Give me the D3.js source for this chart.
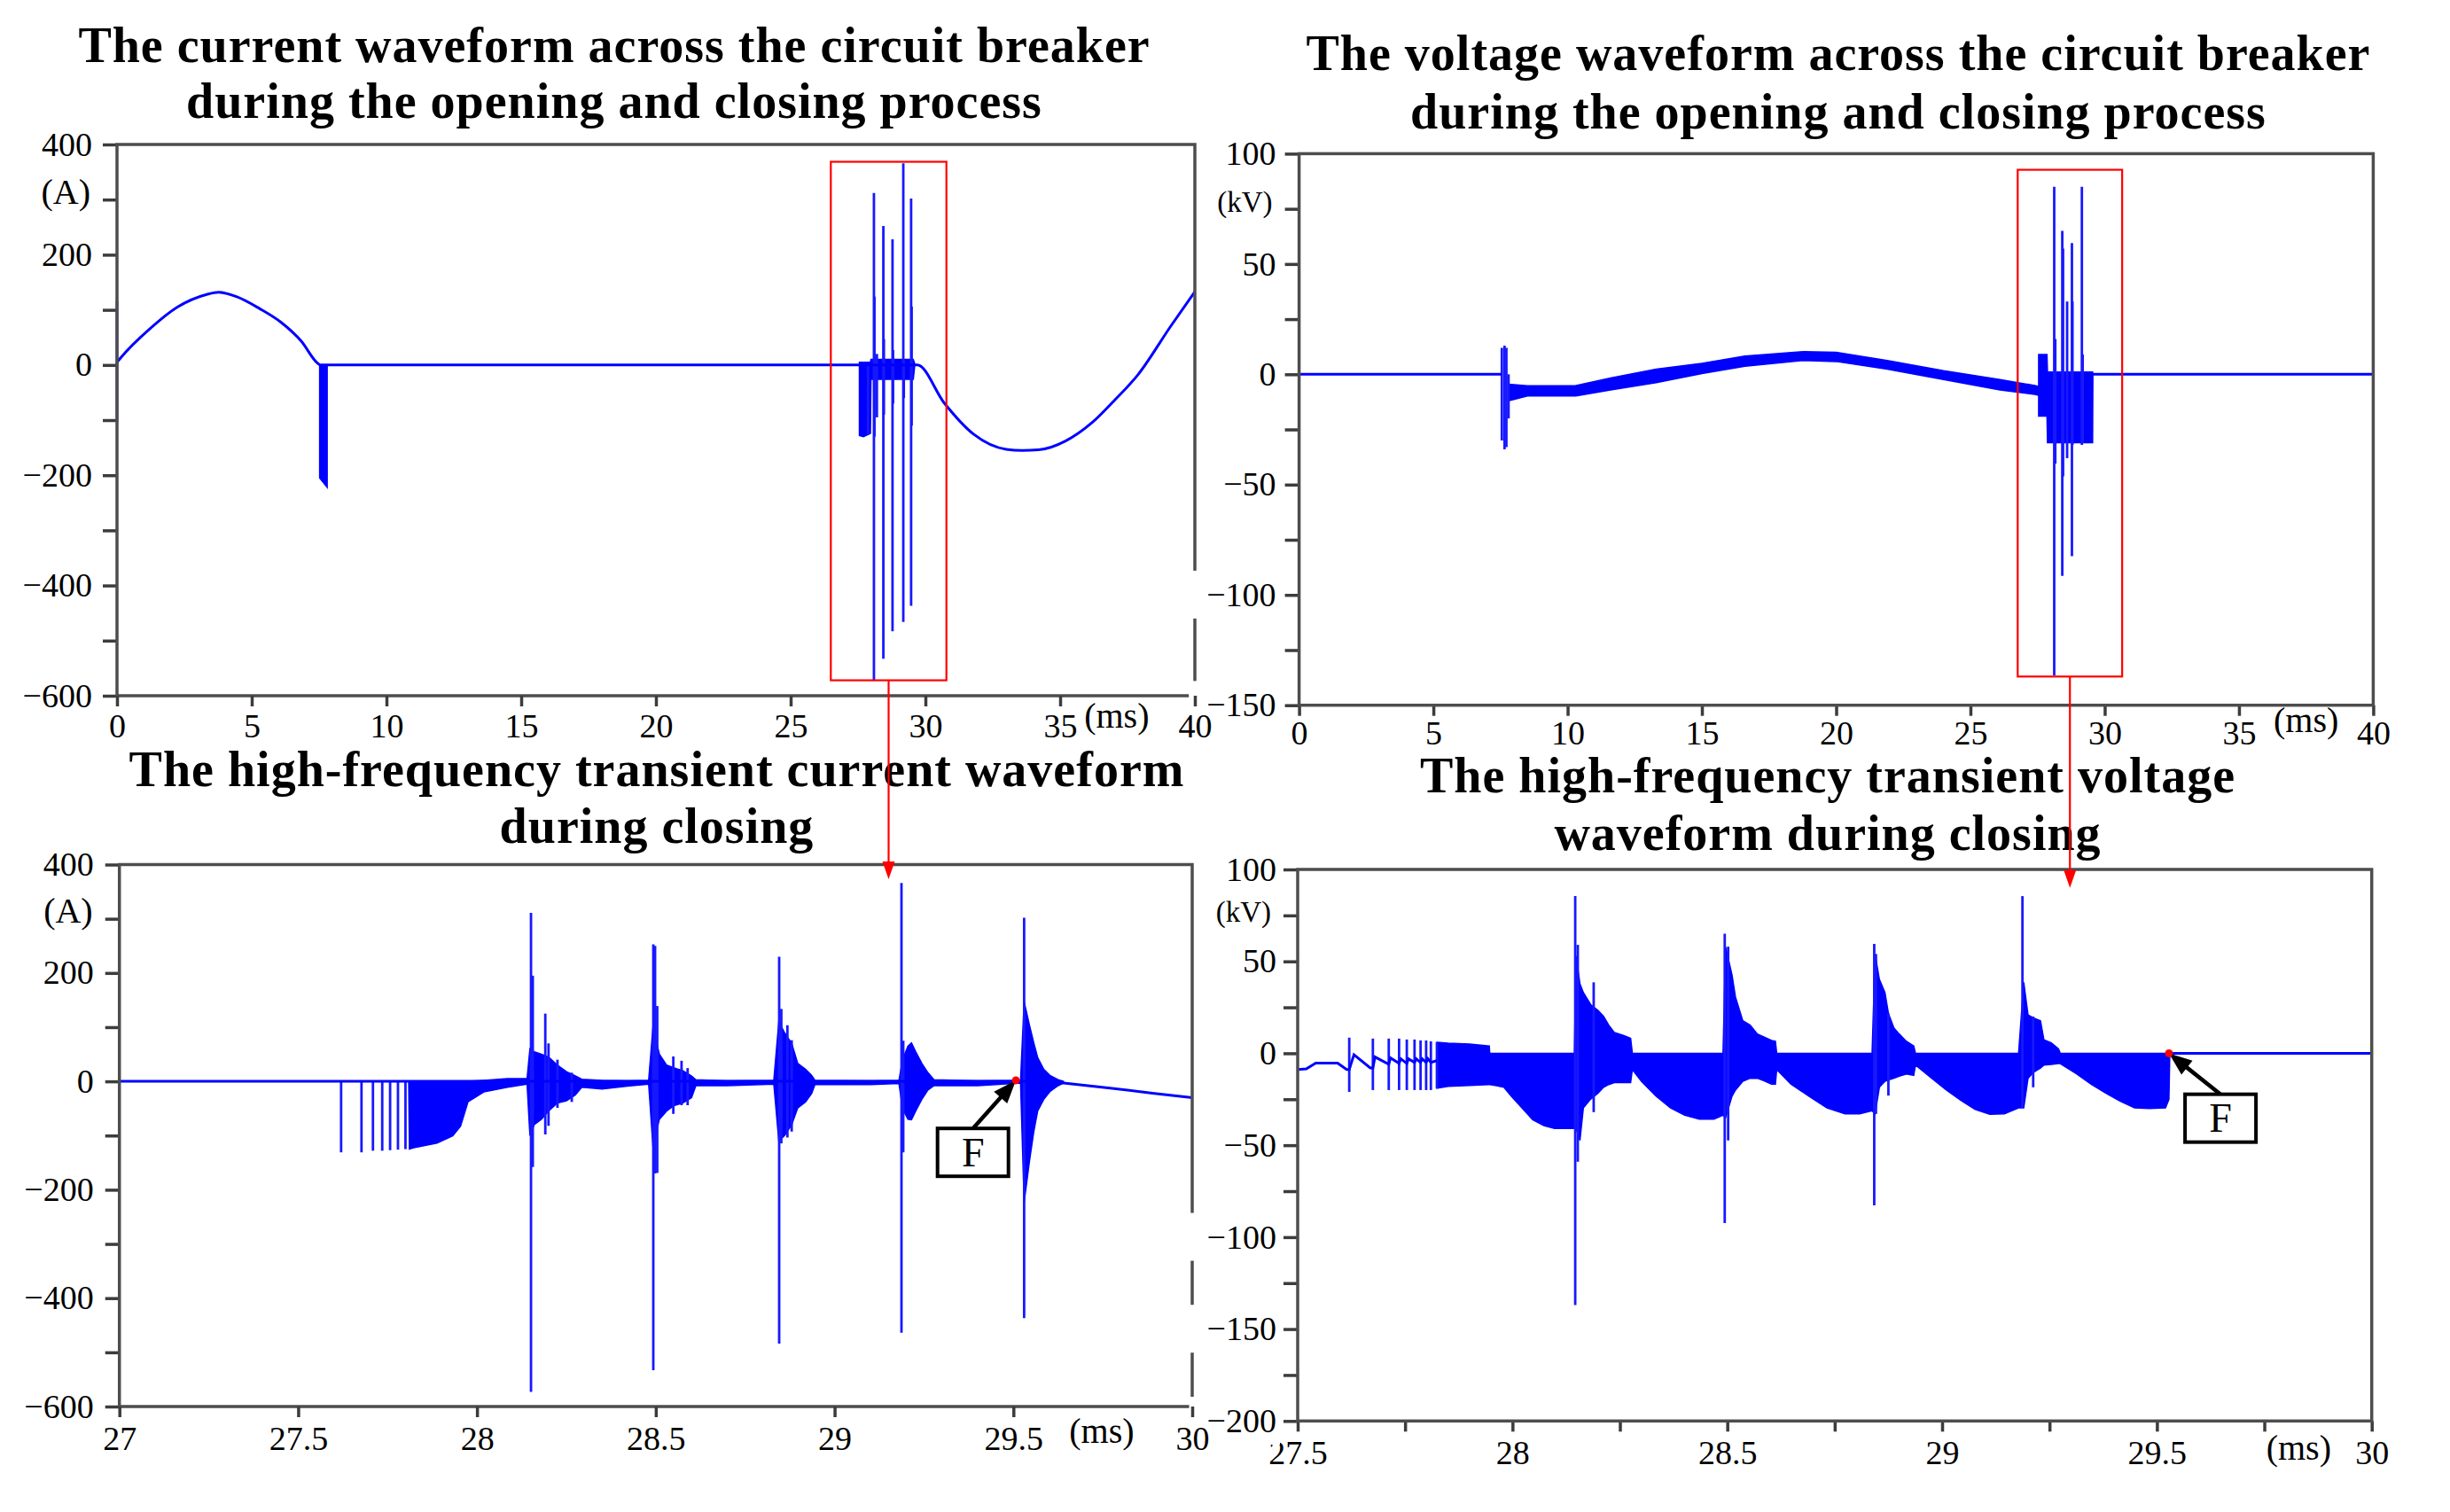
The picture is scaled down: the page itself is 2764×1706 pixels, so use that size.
<!DOCTYPE html>
<meta charset="utf-8">
<title>Circuit breaker current and voltage waveforms</title>
<style>
  body { margin: 0; background: #fff; }
  text { font-family: "Liberation Serif", "Times New Roman", serif; fill: #000; }
  .title { font-weight: bold; font-size: 56px; letter-spacing: 1px; }
</style>
<body>
<div id="chart"></div>
<script src="https://d3js.org/d3.v7.min.js"></script>
<script>

// ---------------- data ----------------
// titles
var titleCurrentFull = ["The current waveform across the circuit breaker", "during the opening and closing process"];
var titleVoltageFull = ["The voltage waveform across the circuit breaker", "during the opening and closing process"];
var titleCurrentZoom = ["The high-frequency transient current waveform", "during closing"];
var titleVoltageZoom = ["The high-frequency transient voltage", "waveform during closing"];

// top-left: current [ms, A]
var iFullWave = [[0,5],[0.1,11],[1.25,67],[2.24,105],[3.33,128],[3.77,132],[4.43,124],[5.3,102],[6.07,78],
  [6.84,43],[7.45,3],[7.55,0],[29.7,0],[30.7,-69],[31.8,-126],[33,-153],[33.6,-155],[34.2,-154],[35.2,-138],
  [36.2,-104],[37,-65],[37.9,-17],[39.1,70],[40,133]];
// [ms, top, bottom]
var iFullDip = [[7.52,0,-205],[7.8,0,-222]];
var iFullBurst = [[27.55,5,-128],[27.7,5,-130],[27.96,5,-124],[27.98,10,-26],[29.55,10,-26],[29.6,3,-3]];
var iFullSpikes = [[0,116,-104],[27.87,0,-126],[28.09,312,-573],[28.11,124,-130],[28.2,20,-95],[28.44,252,-533],
  [28.46,47,-90],[28.78,228,-483],[28.8,27,-70],[29.18,366,-466],[29.2,8,-60],[29.47,302,-437],[29.49,106,-110]];
var iFullZoomBox = [26.49, 30.78, -572, 368.6];

// top-right: voltage [ms, kV]
var vFullPre = [[0,0],[7.55,0]];
var vFullPost = [[29.55,0],[40,0]];
var vFullBand = [[7.8,-4.5,-12],[8.5,-5.2,-9.8],[10.3,-5.1,-9.8],[11.6,-1.7,-7.1],[13.3,2.3,-3.8],[15.0,5.0,0.3],
  [16.6,8.3,3.6],[18.8,10.3,6.3],[20.0,10.0,5.8],[21.9,6.3,2.3],[24.0,1.6,-2.4],[26.1,-2.4,-7.1],[27.4,-5.1,-9.1],
  [27.54,-5.5,-9.5]];
var vFullBurst = [[27.54,9,-19],[27.85,9,-19],[27.87,1,-31],[29.55,1,-31],[29.56,0,0]];
var vFullSpikes = [[0,8.5,0],[7.55,12,-30],[7.65,13,-34],[7.72,12,-33],[7.8,0,-20],[28.12,85,-136.5],[28.16,16,-40.5],
  [28.42,65,-91.4],[28.45,57,-46.3],[28.6,33,-38],[28.78,59.5,-82.4],[28.8,33,-32],[29.15,85,-32],[29.18,9,-31]];
var vFullZoomBox = [26.76, 30.65, -137, 92.7];

// bottom-left: current 27-30 ms
var iZoomLine = [[27,0],[28.15,0],[29.53,0],[29.641,-3],[29.765,-12],[29.889,-22],[30,-30]];
var iZoomEnvelope = [[27.809,0,0],[27.811,0,-125],[27.823,0,-122.6],[27.888,0,-113.8],[27.932,0,-100.5],[27.954,0,-82.6],
  [27.975,0,-37.5],[28.019,2,-19.6],[28.085,5,-10.7],[28.14,5,-5],
  [28.148,60,-100],[28.16,54.5,-80],[28.18,50,-70],[28.2,45,-55],[28.225,30,-40],[28.25,18,-36],[28.275,10,-25],
  [28.293,4,-11],[28.35,2,-14],[28.42,1,-9],[28.48,2,-5],
  [28.492,100,-120],[28.51,50,-70],[28.53,30,-55],[28.55,25,-45],[28.575,20,-40],[28.6,10,-30],[28.612,3,-8],
  [28.7,1,-8],[28.83,2,-5],
  [28.844,110,-110],[28.86,90,-100],[28.88,70,-80],[28.897,33,-49],[28.919,22,-38],[28.936,11,-22],[28.945,2,-6],
  [29.1,1,-6],[29.18,2,-4],
  [29.19,40,-50],[29.205,65,-70],[29.215,71,-71],[29.227,54.5,-54.5],[29.244,33,-33],[29.261,16,-16],[29.278,3,-8],
  [29.4,1,-8],[29.52,2,-3],
  [29.53,147,-223.5],[29.545,103.5,-147],[29.557,71,-92.7],[29.568,43.6,-54.5],[29.585,22,-33],[29.602,11,-19],
  [29.625,3,-8],[29.64,0,-3]];
var iZoomSpikes = [[27.62,0,-131],[27.677,0,-131],[27.709,0,-128],[27.735,0,-128],[27.757,0,-127],[27.779,0,-126],[27.8,0,-125],
  [28.151,311,-573],[28.156,195,-158],[28.191,125,-98],[28.2,70,-82],[28.225,40,-49],[28.265,16,-38],
  [28.493,253,-533],[28.498,250,-170],[28.504,139,-169],[28.549,46,-60],[28.572,38,-44],[28.589,24.5,-44],
  [28.845,230,-484],[28.851,133.6,-114.5],[28.868,103.5,-103.6],[28.88,76,-92.7],
  [29.187,366,-464],[29.192,75,-131],
  [29.53,302,-437]];
var iZoomF = [29.507, 2];
var iZoomFBox = [29.387, -131];

// bottom-right: voltage 27.5-30 ms
var vZoomPre = [[27.5,-8.8],[27.52,-8.5],[27.542,-5.3],[27.593,-5.3],[27.614,-8.8],[27.62,-8.8],[27.631,-0.8],[27.669,-8],
  [27.675,-8],[27.68,-2],[27.712,-6],[27.716,-2.5],[27.736,-5.5],[27.74,-3],[27.754,-5.5],[27.758,-3],[27.772,-5],
  [27.776,-3],[27.786,-5],[27.79,-3],[27.799,-5],[27.803,-3],[27.81,-5],[27.824,-4]];
var vZoomPost = [[29.53,0],[30,0]];
var vZoomEnvelope = [[27.824,6,-19],[27.85,5.5,-18],[27.9,5,-17.5],[27.946,4,-17],[27.947,0,-17],[27.963,0,-17.6],
  [27.98,0,-18.5],[27.997,0,-23.3],[28.022,0,-29.7],[28.047,0,-36.1],[28.073,0,-39.3],[28.098,0,-40.9],[28.144,0,-40.9],
  [28.148,53,-41],[28.157,37.8,-47.4],[28.165,33,-29.7],[28.182,26.5,-24.9],[28.199,23.3,-21.7],[28.212,20.1,-18.5],
  [28.224,15.3,-17],[28.237,11.3,-16],[28.258,9.7,-16],[28.275,8.1,-16],[28.279,0,-8.8],
  [28.3,0,-15.2],[28.334,0,-23.3],[28.368,0,-29.7],[28.401,0,-33.7],[28.435,0,-35.8],[28.469,0,-35.8],[28.49,0,-33.7],
  [28.496,57.9,-35],[28.511,42.6,-23.3],[28.519,30.6,-20],[28.536,17.7,-15.2],[28.553,15.3,-13.6],[28.57,10.5,-13.6],
  [28.586,8.8,-15],[28.603,7,-16.8],[28.612,6.5,-16.8],[28.615,0,-8.8],
  [28.648,0,-16.8],[28.69,0,-23.3],[28.732,0,-29.7],[28.774,0,-32.9],[28.808,0,-32.9],[28.837,0,-31.2],
  [28.844,53.9,-33],[28.854,40.2,-18.5],[28.867,33,-15.2],[28.875,21.7,-14.5],[28.888,13.7,-13.6],[28.9,10.5,-12.5],
  [28.917,6.5,-11.2],[28.934,4,-12],[28.938,0,-6.4],
  [28.976,0,-13.6],[29.01,0,-20],[29.044,0,-25.7],[29.077,0,-30.5],[29.111,0,-33.2],[29.145,0,-32.9],[29.178,0,-29.7],
  [29.19,38.6,-29.7],[29.2,20.9,-13.6],[29.212,19.3,-10.4],[29.229,17.7,-8],[29.237,7.3,-6.4],[29.254,5.7,-6],
  [29.271,2.4,-5.6],[29.275,0,-5.6],
  [29.313,0,-11.2],[29.347,0,-16.8],[29.381,0,-21.7],[29.414,0,-26],[29.448,0,-29.7],[29.482,0,-30],[29.52,0,-29.7],
  [29.528,0,-25],[29.53,0,0]];
var vZoomSpikes = [[27.62,8.5,-21],[27.675,8,-20],[27.712,8,-20],[27.736,8,-20],[27.754,7.5,-20],[27.772,7.5,-20],
  [27.786,7,-20],[27.799,7,-20],[27.81,6.5,-20],[27.824,6,-19],
  [28.146,85.5,-137],[28.152,59,-59],[28.189,38.6,-32],[28.494,65,-92.4],[28.502,58,-47.4],[28.842,59.5,-82.7],
  [28.846,54,-33],[28.875,21.7,-23],[29.187,85.5,-29.7],[29.212,20,-18.5]];
var vZoomF = [29.528, 0];
var vZoomFBox = [29.648, -35.3];

// ---------------- drawing ----------------
var svg = d3.select("#chart").append("svg")
    .attr("width", 2764)
    .attr("height", 1706);

var blue = "#0000ff";
var serif = '"Liberation Serif", "Times New Roman", serif';

function fmt(d) { return d < 0 ? "\u2212" + (-d) : String(d); }
function onStep(d, s) { return Math.abs(d / s - Math.round(d / s)) < 1e-6; }

var panels = [
  { left: 132, right: 1348, top: 163, bottom: 785,
    xDomain: [0, 40], xStep: 5, xLabel: 5, yDomain: [-600, 400], yStep: 100, yLabel: 200,
    title: titleCurrentFull, titleX: 693, titleY: [70, 133], curve: d3.curveMonotoneX,
    yUnit: "(A)", yUnitAt: 313, yUnitSize: 40, xUnitAt: 37.1, xUnitY: 821, xPad: 8, yPad: 12, boxes: false,
    lines: [iFullWave], areas: [iFullDip, iFullBurst], spikes: iFullSpikes },
  { left: 134.7, right: 1345, top: 975.5, bottom: 1587,
    xDomain: [27, 30], xStep: 0.5, xLabel: 0.5, yDomain: [-600, 400], yStep: 100, yLabel: 200,
    title: titleCurrentZoom, titleX: 741, titleY: [887, 951], curve: d3.curveLinear,
    yUnit: "(A)", yUnitAt: 314, yUnitSize: 40, xUnitAt: 29.747, xUnitY: 1628, xPad: 10, yPad: 13, boxes: false,
    lines: [iZoomLine], areas: [iZoomEnvelope], spikes: iZoomSpikes, F: iZoomF, FBox: iZoomFBox },
  { left: 1465.6, right: 2677.4, top: 173.4, bottom: 795.7,
    xDomain: [0, 40], xStep: 5, xLabel: 5, yDomain: [-150, 100], yStep: 25, yLabel: 50,
    title: titleVoltageFull, titleX: 2074, titleY: [79, 145], curve: d3.curveLinear,
    yUnit: "(kV)", yUnitAt: 77.7, yUnitSize: 33, xUnitAt: 37.5, xUnitY: 826, xPad: 5, yPad: 10, boxes: true,
    lines: [vFullPre, vFullPost], areas: [vFullBand, vFullBurst], spikes: vFullSpikes },
  { left: 1464, right: 2675.7, top: 981, bottom: 1603.3,
    xDomain: [27.5, 30], xStep: 0.25, xLabel: 0.5, yDomain: [-200, 100], yStep: 25, yLabel: 50,
    title: titleVoltageZoom, titleX: 2062, titleY: [894, 959], curve: d3.curveLinear,
    yUnit: "(kV)", yUnitAt: 76.8, yUnitSize: 33, xUnitAt: 29.83, xUnitY: 1647, xPad: 10, yPad: 8, boxes: true,
    lines: [vZoomPre, vZoomPost], areas: [vZoomEnvelope], spikes: vZoomSpikes, F: vZoomF, FBox: vZoomFBox }
];

panels.forEach(function(p) {
  var g = svg.append("g");
  var x = d3.scaleLinear().domain(p.xDomain).range([p.left, p.right]);
  var y = d3.scaleLinear().domain(p.yDomain).range([p.bottom, p.top]);
  p.x = x; p.y = y;

  // title, two lines
  var t = g.append("text").attr("class", "title").attr("text-anchor", "middle");
  p.title.forEach(function(s, i) {
    t.append("tspan").attr("x", p.titleX).attr("y", p.titleY[i]).text(s);
  });

  // waveform: filled envelopes, vertical spikes, then thin lines
  var area = d3.area().x(function(d) { return x(d[0]); })
      .y0(function(d) { return y(d[2]); }).y1(function(d) { return y(d[1]); });
  p.areas.forEach(function(a) {
    g.append("path").attr("d", area(a))
      .attr("fill", blue).attr("stroke", blue).attr("stroke-width", 1.5);
  });

  g.append("g").selectAll("line")
    .data(p.spikes)
    .enter().append("line")
      .attr("x1", function(d) { return x(d[0]); })
      .attr("x2", function(d) { return x(d[0]); })
      .attr("y1", function(d) { return y(d[1]); })
      .attr("y2", function(d) { return y(d[2]); })
      .attr("stroke", "#1818ff").attr("stroke-width", 2.8);

  var line = d3.line().curve(p.curve)
      .x(function(d) { return x(d[0]); }).y(function(d) { return y(d[1]); });
  p.lines.forEach(function(l) {
    g.append("path").attr("d", line(l))
      .attr("fill", "none").attr("stroke", blue).attr("stroke-width", 3);
  });

  // axes
  var xg = g.append("g")
    .attr("transform", "translate(0," + p.bottom + ")")
    .call(d3.axisBottom(x)
      .tickValues(d3.range(p.xDomain[0], p.xDomain[1] + p.xStep / 2, p.xStep))
      .tickSize(12).tickPadding(p.xPad)
      .tickFormat(function(d) { return onStep(d, p.xLabel) ? fmt(d) : ""; }));
  var yg = g.append("g")
    .attr("transform", "translate(" + p.left + ",0)")
    .call(d3.axisLeft(y)
      .tickValues(d3.range(p.yDomain[0], p.yDomain[1] + p.yStep / 2, p.yStep))
      .tickSize(16).tickPadding(p.yPad)
      .tickFormat(function(d) { return onStep(d, p.yLabel) ? fmt(d) : ""; }));
  [xg, yg].forEach(function(a) {
    a.attr("font-family", serif).attr("font-size", 38);
    a.select(".domain").remove();
    a.selectAll(".tick line").attr("stroke", "#3c3c3c").attr("stroke-width", 3.5);
    a.selectAll(".tick text").attr("fill", "#000")
      .style("font-family", serif).style("font-size", "38px");
  });
  p.xAxis = xg;

  // the right-hand panels' labels sit on white patches that cut the left panels' frames
  if (p.boxes) {
    yg.selectAll(".tick text").each(function() {
      if (!this.textContent) return;
      var b = this.getBBox();
      d3.select(this.parentNode).insert("rect", "text")
        .attr("x", b.x - 20).attr("y", b.y - 6)
        .attr("width", b.width + 24).attr("height", b.height + 12)
        .attr("fill", "#fff");
    });
  }

  // frame
  g.append("rect")
    .attr("x", p.left).attr("y", p.top)
    .attr("width", p.right - p.left).attr("height", p.bottom - p.top)
    .attr("fill", "none").attr("stroke", "#4d4d4d").attr("stroke-width", 3.5);

  // unit labels
  g.append("text").attr("x", p.left - 30).attr("y", y(p.yUnitAt)).attr("dy", "0.32em")
    .attr("text-anchor", "end").style("font-size", p.yUnitSize + "px").text(p.yUnit);
  g.append("text").attr("x", x(p.xUnitAt)).attr("y", p.xUnitY)
    .attr("text-anchor", "middle").style("font-size", "40px").text("(ms)");

  // point F with its callout box
  if (p.F) {
    var fx = x(p.F[0]), fy = y(p.F[1]);
    var bx = x(p.FBox[0]), by = y(p.FBox[1]);
    var bw = 80, bh = 54;
    var tx = bx, ty = by - bh / 2;
    var dx = fx - tx, dy = fy - ty, len = Math.sqrt(dx * dx + dy * dy);
    var ux = dx / len, uy = dy / len, hl = 26, hw = 10;
    g.append("line").attr("x1", tx).attr("y1", ty)
      .attr("x2", fx - ux * hl * 0.8).attr("y2", fy - uy * hl * 0.8)
      .attr("stroke", "#000").attr("stroke-width", 4.5);
    g.append("path")
      .attr("d", "M" + fx + "," + fy +
        "L" + (fx - ux * hl - uy * hw) + "," + (fy - uy * hl + ux * hw) +
        "L" + (fx - ux * hl + uy * hw) + "," + (fy - uy * hl - ux * hw) + "Z")
      .attr("fill", "#000");
    g.append("rect").attr("x", bx - bw / 2).attr("y", by - bh / 2).attr("width", bw).attr("height", bh)
      .attr("fill", "#fff").attr("stroke", "#000").attr("stroke-width", 4);
    g.append("text").attr("x", bx).attr("y", by).attr("dy", "0.34em")
      .attr("text-anchor", "middle").style("font-size", "46px").text("F");
    g.append("circle").attr("cx", fx).attr("cy", fy).attr("r", 4.5).attr("fill", "#ff0000");
  }
});

// keep the left panels' bottom labels ("40", "30") above the white patches
panels[0].xAxis.raise();
panels[1].xAxis.raise();
panels[0].xAxis.node().parentNode.parentNode.appendChild(panels[0].xAxis.node());
panels[1].xAxis.node().parentNode.parentNode.appendChild(panels[1].xAxis.node());

// red boxes on the full records, linked down to the zoomed views
function zoomLink(src, box, dst, tipValue) {
  var x0 = src.x(box[0]), x1 = src.x(box[1]);
  var yTop = src.y(box[3]), yBot = src.y(box[2]);
  svg.append("rect").attr("x", x0).attr("y", yTop).attr("width", x1 - x0).attr("height", yBot - yTop)
    .attr("fill", "none").attr("stroke", "#ff0000").attr("stroke-width", 2.2);
  var cx = (x0 + x1) / 2, tip = dst.y(tipValue);
  svg.append("line").attr("x1", cx).attr("y1", yBot).attr("x2", cx).attr("y2", tip - 16)
    .attr("stroke", "#ff0000").attr("stroke-width", 2.2);
  svg.append("path")
    .attr("d", "M" + cx + "," + tip + "L" + (cx - 7) + "," + (tip - 20) + "L" + (cx + 7) + "," + (tip - 20) + "Z")
    .attr("fill", "#ff0000");
}
zoomLink(panels[0], iFullZoomBox, panels[1], 373);
zoomLink(panels[2], vFullZoomBox, panels[3], 90);

</script>
</body>
